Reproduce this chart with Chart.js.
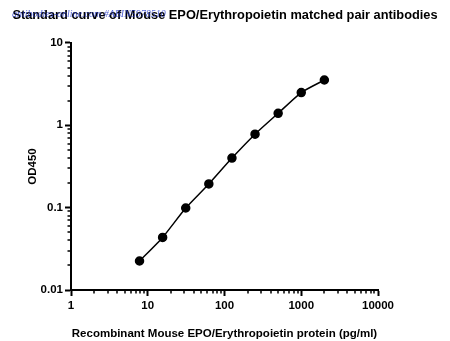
<!DOCTYPE html>
<html>
<head>
<meta charset="utf-8">
<script src="https://cdn.jsdelivr.net/npm/chart.js@4.4.0/dist/chart.umd.min.js"></script>
<style>
  body { margin: 0; background: #fff; }
  #wrap { position: relative; width: 450px; height: 341px; }
  #mark { position: absolute; left: 12px; top: 8px; font: italic 10px "Liberation Serif", serif; color: rgba(40, 60, 200, 0.8); }
</style>
</head>
<body>
<div id="wrap">
  <canvas id="myChart" width="450" height="341"></canvas>
  <div id="mark">antibodies-online.com #ABIN5978510</div>
</div>
<script>
const concentration = [7.8125, 15.625, 31.25, 62.5, 125, 250, 500, 1000, 2000];
const od450 = [0.0225, 0.0435, 0.099, 0.194, 0.40, 0.78, 1.40, 2.50, 3.55];
const xMajorTicks = [1, 10, 100, 1000, 10000];
const yMajorTicks = [0.01, 0.1, 1, 10];

const ctx = document.getElementById("myChart").getContext("2d");

function minorValues(majors) {
  const out = [];
  for (let i = 0; i < majors.length - 1; i++) {
    for (let k = 2; k <= 9; k++) out.push(majors[i] * k);
  }
  return out;
}

// short minor tick marks on both axes
const minorTicks = {
  id: "minorTicks",
  afterDraw(chart) {
    const c = chart.ctx;
    const xs = chart.scales.x;
    const ys = chart.scales.y;
    c.save();
    c.strokeStyle = "#000";
    c.lineWidth = 1.5;
    c.beginPath();
    minorValues(xMajorTicks).forEach((v) => {
      const px = Math.round(xs.getPixelForValue(v));
      c.moveTo(px, xs.top);
      c.lineTo(px, xs.top + 3.5);
    });
    minorValues(yMajorTicks).forEach((v) => {
      const py = Math.round(ys.getPixelForValue(v));
      c.moveTo(ys.right, py);
      c.lineTo(ys.right - 3.5, py);
    });
    c.stroke();
    c.restore();
  },
};

const tickFont = { family: "Liberation Sans, Arial", size: 11.5, weight: "bold" };

const myChart = new Chart(ctx, {
  type: "line",
  data: {
    datasets: [
      {
        data: concentration.map((x, i) => ({ x: x, y: od450[i] })),
        borderColor: "#000",
        backgroundColor: "#000",
        borderWidth: 1.5,
        pointRadius: 4,
        pointHoverRadius: 4,
        tension: 0.2,
      },
    ],
  },
  options: {
    responsive: false,
    animation: false,
    layout: { padding: 0 },
    plugins: {
      legend: { display: false },
      tooltip: { enabled: false },
      title: {
        display: true,
        text: "Standard curve of Mouse EPO/Erythropoietin matched pair antibodies",
        color: "#000",
        font: { family: "Liberation Sans, Arial", size: 12.8, weight: "bold" },
        padding: { top: 8, bottom: 19.6 },
      },
    },
    scales: {
      x: {
        type: "logarithmic",
        min: 1,
        max: 10000,
        afterBuildTicks: (scale) => {
          scale.ticks = xMajorTicks.map((v) => ({ value: v }));
        },
        afterFit: (scale) => {
          scale.height = 51;
        },
        ticks: {
          color: "#000",
          font: tickFont,
          padding: 3,
          maxRotation: 0,
          callback: (v) => String(v),
        },
        grid: { drawOnChartArea: false, drawTicks: true, tickLength: 6, tickColor: "#000", tickWidth: 2 },
        border: { display: true, color: "#000", width: 2 },
        title: {
          display: true,
          text: "Recombinant Mouse EPO/Erythropoietin protein (pg/ml)",
          color: "#000",
          font: tickFont,
          padding: { top: 9, bottom: 0 },
        },
      },
      y: {
        type: "logarithmic",
        min: 0.01,
        max: 10,
        afterBuildTicks: (scale) => {
          scale.ticks = yMajorTicks.map((v) => ({ value: v }));
        },
        afterFit: (scale) => {
          scale.width = 71;
        },
        ticks: {
          color: "#000",
          font: tickFont,
          padding: 2,
          callback: (v) => String(v),
        },
        grid: { drawOnChartArea: false, drawTicks: true, tickLength: 6, tickColor: "#000", tickWidth: 2 },
        border: { display: true, color: "#000", width: 2 },
        title: {
          display: true,
          text: "OD450",
          color: "#000",
          font: tickFont,
          padding: { top: 26, bottom: 0 },
        },
      },
      // empty right-hand axis that only reserves the blank margin
      yRight: {
        position: "right",
        display: true,
        ticks: { display: false },
        grid: { display: false },
        border: { display: false },
        afterFit: (scale) => {
          scale.width = 72;
        },
      },
    },
  },
  plugins: [minorTicks],
});
</script>
</body>
</html>
